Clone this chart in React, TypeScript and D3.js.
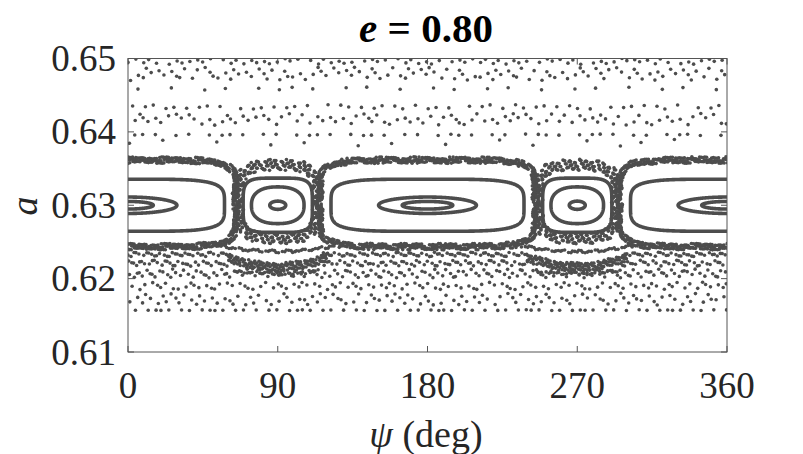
import React from 'react'
import * as d3 from 'd3'

// axes
const psiTicks = [0, 90, 180, 270, 360]
const aTicks = [0.61, 0.62, 0.63, 0.64, 0.65]
const psiDomain = [0, 360]
const aDomain = [0.61, 0.65]

// resonance chain, centres in deg, all at a = 0.630
const chainA = 0.63
const bigCentres = [0, 180, 360]
const smallCentres = [90, 270]

// closed curves: half width (deg), half height (a), squareness
const bigCurves = [
  { hw: 58, hh: 0.00355, p: 4.5 },
  { hw: 29.4, hh: 0.00112, p: 2 },
  { hw: 15.2, hh: 0.00052, p: 2 },
]
const smallCurves = [
  { hw: 20.8, hh: 0.0037, p: 4.5 },
  { hw: 15.8, hh: 0.0025, p: 2.4 },
  { hw: 4.8, hh: 0.00056, p: 2 },
]

// thick dotted layers round the separatrices
const bigLayer = { a: 0.63025, hw: 65, hh: 0.0059, p: 6, thick: 6.5, n: 800 }
const smallLayer = { a: 0.6305, hw: 24, hh: 0.005, p: 3.5, thick: 11, n: 400 }

// arcs hanging under the small islands
const lobes = [
  { edge: 0.6245, depth: 0.0008, hw: 34, jit: 0.0002, n: 50 },
  { edge: 0.6229, depth: 0.0013, hw: 30, jit: 0.0006, n: 130 },
  { edge: 0.6211, depth: 0.0004, hw: 26, jit: 0.0002, n: 30 },
]

// scattered rows above and below the chain
const upperRows = [
  { a: 0.6496, jit: 0.0004, n: 80 },
  { a: 0.6479, jit: 0.0009, n: 110 },
  { a: 0.6459, jit: 0.0002, n: 22 },
  { a: 0.6434, jit: 0.0003, n: 50 },
  { a: 0.6417, jit: 0.0008, n: 95 },
  { a: 0.6396, jit: 0.0001, n: 42 },
  { a: 0.6385, jit: 0.0005, n: 14 },
]
const lowerRows = [
  { a: 0.6233, jit: 0.0003, n: 210, gap: true },
  { a: 0.6221, jit: 0.0004, n: 190, gap: true },
  { a: 0.6207, jit: 0.0006, n: 170, gap: false },
  { a: 0.619, jit: 0.0005, n: 110, gap: false },
  { a: 0.6172, jit: 0.0008, n: 115, gap: false },
  { a: 0.6157, jit: 0.00005, n: 62, gap: false },
]

const W = 803
const H = 454
const left = 128
const right = 727
const top = 58.5
const bottom = 352
const ink = '#4d4d4d'
const serif = '"Liberation Serif", "Times New Roman", serif'

const x = d3.scaleLinear().domain(psiDomain).range([left, right])
const y = d3.scaleLinear().domain(aDomain).range([bottom, top])

// golden-ratio steps along a row, base-3 van der Corput across it
const GOLD = 0.6180339887
const along = (k: number, s: number) => (k * GOLD + s) % 1
const across = (k: number, s: number) => {
  let f = 1
  let r = 0
  let i = k + 1
  while (i > 0) {
    f /= 3
    r += f * (i % 3)
    i = Math.floor(i / 3)
  }
  return (r + s) % 1
}

const superPoint = (cx: number, ca: number, hw: number, hh: number, p: number, t: number) => {
  const c = Math.cos(t)
  const s = Math.sin(t)
  return [
    cx + hw * Math.sign(c) * Math.pow(Math.abs(c), 2 / p),
    ca + hh * Math.sign(s) * Math.pow(Math.abs(s), 2 / p),
  ]
}

// dots spread along a closed curve with some thickness (in px)
const layerDots = (cx: number, L: any, idx: number) => {
  const M = 1500
  const pts = d3.range(M + 1).map(i => {
    const [ps, a] = superPoint(cx, L.a, L.hw, L.hh, L.p, (i / M) * 2 * Math.PI)
    return [x(ps), y(a)]
  })
  const cum = [0]
  for (let i = 1; i <= M; i++) cum.push(cum[i - 1] + Math.hypot(pts[i][0] - pts[i - 1][0], pts[i][1] - pts[i - 1][1]))
  const total = cum[M]
  const out: number[][] = []
  for (let k = 0; k < L.n; k++) {
    const s = along(k, idx * 0.31) * total
    const j = Math.max(0, Math.min(M - 1, d3.bisectRight(cum, s) - 1))
    const seg = cum[j + 1] - cum[j] || 1
    const f = (s - cum[j]) / seg
    const px = pts[j][0] + (pts[j + 1][0] - pts[j][0]) * f
    const py = pts[j][1] + (pts[j + 1][1] - pts[j][1]) * f
    let nx = pts[j + 1][1] - pts[j][1]
    let ny = -(pts[j + 1][0] - pts[j][0])
    const len = Math.hypot(nx, ny) || 1
    nx /= len
    ny /= len
    const off = L.thick * (across(k, idx * 0.17) - 0.5)
    out.push([x.invert(px + nx * off), y.invert(py + ny * off)])
  }
  return out
}

const buildDots = () => {
  const dots: number[][] = []
  bigCentres.forEach((c, i) => dots.push(...layerDots(c, bigLayer, i)))
  smallCentres.forEach((c, i) => dots.push(...layerDots(c, smallLayer, i + 5)))

  smallCentres.forEach((c, ci) => {
    lobes.forEach((L, li) => {
      for (let k = 0; k < L.n; k++) {
        const d = (along(k, li * 0.23 + ci * 0.5) * 2 - 1) * L.hw
        const a = L.edge - L.depth * (1 - (d / L.hw) ** 2) + L.jit * 2 * (across(k, li * 0.41) - 0.5)
        dots.push([c + d, a])
      }
    })
  })

  upperRows.forEach((r, i) => {
    for (let k = 0; k < r.n; k++) {
      const ps = along(k, i * 0.137) * 360
      dots.push([ps, r.a + r.jit * 2 * (across(k, i * 0.29) - 0.5)])
    }
  })

  lowerRows.forEach((r, i) => {
    for (let k = 0; k < r.n; k++) {
      const ps = along(k, i * 0.211) * 360
      if (r.gap && smallCentres.some(c => Math.abs(ps - c) < 27)) continue
      dots.push([ps, r.a + r.jit * 2 * (across(k, i * 0.37) - 0.5)])
    }
  })
  return dots
}

const ringPath = (cx: number, C: any) => {
  const pts = d3.range(360).map(i => superPoint(cx, chainA, C.hw, C.hh, C.p, (i / 360) * 2 * Math.PI))
  return d3
    .line<number[]>()
    .x(d => x(d[0]))
    .y(d => y(d[1]))
    .curve(d3.curveLinearClosed)(pts) as string
}

const App = () => {
  const dots = buildDots()
  const tick = 6
  return (
    <svg width={W} height={H} style={{ position: 'absolute', left: 0, top: 0, background: '#fff' }}>
      <defs>
        <clipPath id="plot">
          <rect x={left} y={top} width={right - left} height={bottom - top} />
        </clipPath>
      </defs>

      <g clipPath="url(#plot)">
        {bigCentres.map(c =>
          bigCurves.map((C, i) => (
            <path key={`b${c}-${i}`} d={ringPath(c, C)} fill="none" stroke={ink} strokeWidth={3.6} />
          ))
        )}
        {smallCentres.map(c =>
          smallCurves.map((C, i) => (
            <path key={`s${c}-${i}`} d={ringPath(c, C)} fill="none" stroke={ink} strokeWidth={3.6} />
          ))
        )}
        {dots.map((d, i) => (
          <circle key={i} cx={x(d[0])} cy={y(d[1])} r={1.8} fill={ink} />
        ))}
      </g>

      {/* box and ticks */}
      <rect x={left} y={top} width={right - left} height={bottom - top} fill="none" stroke="#555" strokeWidth={1} />
      {psiTicks.map(t => (
        <g key={`x${t}`}>
          <line x1={x(t)} x2={x(t)} y1={bottom} y2={bottom - tick} stroke="#555" />
          <line x1={x(t)} x2={x(t)} y1={top} y2={top + tick} stroke="#555" />
          <text x={x(t)} y={398} textAnchor="middle" fontFamily={serif} fontSize={37} fill="#262626">
            {t}
          </text>
        </g>
      ))}
      {aTicks.map(t => (
        <g key={`y${t}`}>
          <line x1={left} x2={left + tick} y1={y(t)} y2={y(t)} stroke="#555" />
          <line x1={right} x2={right - tick} y1={y(t)} y2={y(t)} stroke="#555" />
          <text x={116} y={y(t) + 12.5} textAnchor="end" fontFamily={serif} fontSize={37} fill="#262626">
            {d3.format('.2f')(t)}
          </text>
        </g>
      ))}

      <text x={426} y={42} textAnchor="middle" fontFamily={serif} fontSize={41} fontWeight="bold" fill="#000">
        <tspan fontStyle="italic">e</tspan> = 0.80
      </text>
      <text x={426} y={447} textAnchor="middle" fontFamily={serif} fontSize={38} fill="#262626">
        <tspan fontStyle="italic">ψ</tspan> (deg)
      </text>
      <text
        transform="translate(37,206) rotate(-90)"
        textAnchor="middle"
        fontFamily={serif}
        fontSize={38}
        fontStyle="italic"
        fill="#262626"
      >
        a
      </text>
    </svg>
  )
}

export default App
